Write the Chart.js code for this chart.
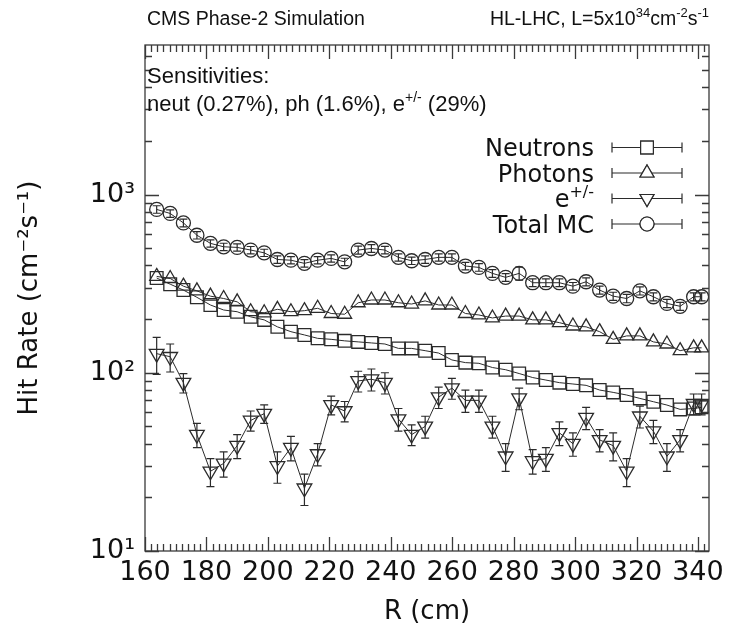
<!DOCTYPE html>
<html>
<head>
<meta charset="utf-8">
<script src="https://cdn.jsdelivr.net/npm/chart.js@4.4.0/dist/chart.umd.min.js"></script>
<style>
  html, body { margin: 0; padding: 0; background: #fff; }
  #wrap { width: 731px; height: 632px; }
</style>
</head>
<body>
<div id="wrap"><canvas id="hitRate" width="731" height="632"></canvas></div>
<script>
// valeurs (R en cm, taux en cm^-2 s^-1)
const radius = [163.8, 168.2, 172.5, 176.9, 181.3, 185.6, 190.0, 194.4, 198.8, 203.1,
  207.5, 211.9, 216.2, 220.6, 225.0, 229.4, 233.7, 238.1, 242.5, 246.8,
  251.2, 255.6, 259.9, 264.3, 268.7, 273.1, 277.4, 281.8, 286.2, 290.5,
  294.9, 299.3, 303.6, 308.0, 312.4, 316.8, 321.1, 325.5, 329.9, 334.2,
  338.6, 341.2];

const neutrons = [340, 314, 291, 265, 240, 225, 220, 206, 198, 181,
  170, 163, 156, 154, 151, 149, 147, 145, 137, 137,
  133, 129, 118, 114, 113, 107, 104, 99, 94, 91,
  88, 86.5, 85, 80, 77.6, 75, 71.8, 68.8, 65.9, 62.3,
  63, 64];

const photons = [347, 338, 306, 288, 269, 261, 250, 220, 217, 227,
  220, 223, 230, 215, 213, 247, 256, 256, 247, 243,
  253, 240, 240, 215, 211, 203, 208, 208, 198, 198,
  191, 183, 181, 170, 154, 161, 161, 149, 145, 133,
  138, 138];

const electrons = [128, 123, 88, 45, 28, 31, 39, 54, 59, 30,
  38, 22.5, 35, 66, 61, 90, 92, 88, 55, 45,
  50, 73, 82, 70, 70, 50, 34, 72, 32, 33,
  46, 40, 56, 42, 39, 28, 57, 47, 34, 42,
  67, 67];
const electronErr = [30, 22, 11, 7, 5, 5, 6, 7, 7, 6,
  6, 4.5, 5, 8, 8, 12, 13, 12, 8, 6,
  7, 10, 11, 10, 10, 7, 6, 10, 5, 5,
  7, 6, 8, 6, 7, 5, 8, 7, 6, 6,
  9, 9];

const totalMC = [825, 783, 693, 591, 532, 509, 505, 488, 471, 432,
  428, 411, 428, 438, 419, 488, 498, 488, 444, 425,
  432, 444, 444, 397, 390, 361, 343, 361, 320, 320,
  320, 306, 324, 291, 269, 261, 288, 267, 245, 236,
  267, 267];
const totalErr = [40, 38, 34, 28, 25, 24, 24, 23, 22, 21,
  20, 20, 20, 21, 20, 25, 25, 24, 21, 20,
  21, 21, 21, 19, 19, 18, 17, 30, 16, 16,
  16, 15, 17, 15, 14, 14, 15, 14, 13, 12,
  14, 14];

const xTicks = [160, 180, 200, 220, 240, 260, 280, 300, 320, 340];
const yTicks = [10, 100, 1000];
const yTickLabels = ['10¹', '10²', '10³'];

const INK = '#2b2b2b';
const FRAME = '#3a3a3a';

// texte avec exposants (segments {t, sup})
function richText(ctx, segs, x, y, size, family, align) {
    const supSize = Math.round(size * 0.65);
    let total = 0;
    segs.forEach(s => {
        ctx.font = (s.sup ? supSize : size) + 'px ' + family;
        s.w = ctx.measureText(s.t).width;
        total += s.w;
    });
    let cx = align === 'right' ? x - total : x;
    ctx.textBaseline = 'alphabetic';
    ctx.textAlign = 'left';
    segs.forEach(s => {
        ctx.font = (s.sup ? supSize : size) + 'px ' + family;
        ctx.fillText(s.t, cx, s.sup ? y - size * 0.42 : y);
        cx += s.w;
    });
}

const framePlugin = {
    id: 'frame',
    afterDatasetsDraw(chart) {
        const { ctx, chartArea: a, scales: { x, y } } = chart;
        ctx.save();
        ctx.strokeStyle = FRAME;
        ctx.lineWidth = 1.3;
        ctx.strokeRect(a.left, a.top, a.right - a.left, a.bottom - a.top);
        ctx.beginPath();
        // ticks x (tous les 2 cm)
        for (let v = 160; v <= 343; v += 2) {
            const px = Math.round(x.getPixelForValue(v)) + 0.5;
            const len = (v % 20 === 0) ? 14 : 7;
            ctx.moveTo(px, a.bottom); ctx.lineTo(px, a.bottom - len);
            ctx.moveTo(px, a.top); ctx.lineTo(px, a.top + len);
        }
        // ticks y (log)
        [10, 100, 1000].forEach(dec => {
            for (let m = 1; m <= 9; m++) {
                const v = dec * m;
                if (v > y.max) break;
                const py = Math.round(y.getPixelForValue(v)) + 0.5;
                const len = m === 1 ? 14 : 7;
                ctx.moveTo(a.left, py); ctx.lineTo(a.left + len, py);
                ctx.moveTo(a.right, py); ctx.lineTo(a.right - len, py);
            }
        });
        ctx.stroke();
        ctx.restore();
    }
};

const errorBarPlugin = {
    id: 'errorBars',
    afterDatasetsDraw(chart) {
        const { ctx, scales: { x, y } } = chart;
        ctx.save();
        ctx.strokeStyle = INK;
        ctx.lineWidth = 1.2;
        chart.data.datasets.forEach(ds => {
            if (!ds.errors) return;
            ds.data.forEach((p, i) => {
                const e = ds.errors[i];
                const px = x.getPixelForValue(p.x);
                const y1 = y.getPixelForValue(p.y + e);
                const y2 = y.getPixelForValue(Math.max(p.y - e, 1));
                ctx.beginPath();
                ctx.moveTo(px, y1); ctx.lineTo(px, y2);
                ctx.moveTo(px - 4, y1); ctx.lineTo(px + 4, y1);
                ctx.moveTo(px - 4, y2); ctx.lineTo(px + 4, y2);
                ctx.stroke();
            });
        });
        ctx.restore();
    }
};

const textPlugin = {
    id: 'texts',
    afterDraw(chart) {
        const { ctx } = chart;
        ctx.save();
        ctx.fillStyle = '#111';
        const sans = '"Liberation Sans", Arial, sans-serif';
        richText(ctx, [{ t: 'CMS Phase-2 Simulation' }], 147, 25, 19.5, sans, 'left');
        richText(ctx, [{ t: 'HL-LHC, L=5x10' }, { t: '34', sup: true }, { t: 'cm' }, { t: '-2', sup: true },
            { t: 's' }, { t: '-1', sup: true }], 709, 25, 19.5, sans, 'right');
        richText(ctx, [{ t: 'Sensitivities:' }], 147, 83, 22, sans, 'left');
        richText(ctx, [{ t: 'neut (0.27%), ph (1.6%), e' }, { t: '+/-', sup: true }, { t: ' (29%)' }],
            147, 111, 22, sans, 'left');

        // légende
        const dv = '"DejaVu Sans", sans-serif';
        const rows = [
            { segs: [{ t: 'Neutrons' }], style: 'rect', r: 9, rot: 0 },
            { segs: [{ t: 'Photons' }], style: 'triangle', r: 8, rot: 0 },
            { segs: [{ t: 'e' }, { t: '+/-', sup: true }], style: 'triangle', r: 8, rot: 180 },
            { segs: [{ t: 'Total MC' }], style: 'circle', r: 7, rot: 0 }
        ];
        rows.forEach((row, i) => {
            const cy = 147.5 + i * 25.5;
            ctx.fillStyle = '#111';
            richText(ctx, row.segs, 594, cy + 8.5, 24, dv, 'right');
            ctx.strokeStyle = INK;
            ctx.lineWidth = 1.2;
            ctx.beginPath();
            ctx.moveTo(612, cy); ctx.lineTo(682, cy);
            ctx.moveTo(612, cy - 5); ctx.lineTo(612, cy + 5);
            ctx.moveTo(682, cy - 5); ctx.lineTo(682, cy + 5);
            ctx.stroke();
            ctx.fillStyle = '#fff';
            Chart.helpers.drawPoint(ctx, { pointStyle: row.style, radius: row.r, rotation: row.rot, borderWidth: 1.3 }, 647, cy);
            ctx.fill();
            ctx.stroke();
        });
        ctx.restore();
    }
};

function series(values) {
    return radius.map((r, i) => ({ x: r, y: values[i] }));
}

function baseDataset(label, values, style, r, rot) {
    return {
        label: label,
        data: series(values),
        borderColor: INK,
        borderWidth: 1,
        pointStyle: style,
        pointRadius: r,
        pointRotation: rot,
        pointBorderColor: INK,
        pointBorderWidth: 1.3,
        pointBackgroundColor: 'rgba(0,0,0,0)',
        tension: 0
    };
}

const ds = [
    baseDataset('Neutrons', neutrons, 'rect', 9, 0),
    baseDataset('Photons', photons, 'triangle', 8, 0),
    Object.assign(baseDataset('e+/-', electrons, 'triangle', 8.5, 180), { errors: electronErr }),
    Object.assign(baseDataset('Total MC', totalMC, 'circle', 7, 0), { errors: totalErr })
];

const tickFont = { family: '"DejaVu Sans", sans-serif', size: 27 };
const titleFont = { family: '"DejaVu Sans", sans-serif', size: 26 };

new Chart(document.getElementById('hitRate'), {
    type: 'line',
    data: { datasets: ds },
    options: {
        responsive: false,
        animation: false,
        layout: { padding: { left: 0, top: 45, right: 22, bottom: 0 } },
        plugins: { legend: { display: false }, tooltip: { enabled: false } },
        scales: {
            x: {
                type: 'linear',
                min: 160,
                max: 343.6,
                afterBuildTicks: s => { s.ticks = xTicks.map(v => ({ value: v })); },
                afterFit: s => { s.height = 81; },
                grid: { display: false, drawTicks: false },
                border: { display: false },
                ticks: { font: tickFont, color: '#111', padding: 6, maxRotation: 0, autoSkip: false },
                title: { display: true, text: 'R (cm)', font: titleFont, color: '#111', padding: { top: 0, bottom: 4 } }
            },
            y: {
                type: 'logarithmic',
                min: 10,
                max: 6900,
                afterBuildTicks: s => { s.ticks = yTicks.map(v => ({ value: v })); },
                afterFit: s => { s.width = 145; },
                grid: { display: false, drawTicks: false },
                border: { display: false },
                ticks: {
                    font: tickFont, color: '#111', padding: 10, autoSkip: false,
                    callback: v => yTickLabels[yTicks.indexOf(v)]
                },
                title: { display: true, text: 'Hit Rate (cm⁻²s⁻¹)', font: titleFont, color: '#111', padding: { top: 15, bottom: 0 } }
            }
        }
    },
    plugins: [framePlugin, errorBarPlugin, textPlugin]
});
</script>
</body>
</html>
